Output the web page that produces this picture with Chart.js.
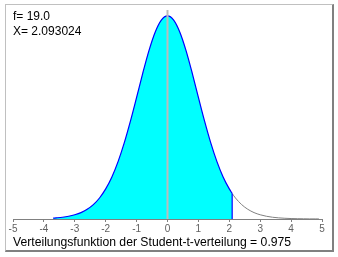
<!DOCTYPE html>
<html>
<head>
<meta charset="utf-8">
<script src="https://cdn.jsdelivr.net/npm/chart.js@4"></script>
<style>
  html, body { margin: 0; padding: 0; background: #fff; }
  #wrap { position: relative; width: 338px; height: 257px; overflow: hidden; }
  #frame { position: absolute; left: 5px; top: 4px; width: 326px; height: 245px;
           border-left: 1px solid #c0c0c0; border-top: 1px solid #c0c0c0;
           border-right: 2px solid #808080; border-bottom: 2px solid #808080; }
  canvas { position: absolute; left: 0; top: 0; }
  .txt { position: absolute; font: 12px "Liberation Sans", Arial, sans-serif; line-height: 12px; color: #000; white-space: nowrap; }
</style>
</head>
<body>
<div id="wrap">
  <div id="frame"></div>
  <canvas id="chart" width="338" height="257"></canvas>
  <div class="txt" style="left:13px; top:10px;">f= 19.0</div>
  <div class="txt" style="left:13px; top:25px;">X= 2.093024</div>
  <div class="txt" style="left:13px; top:236px; font-size:12.2px;">Verteilungsfunktion der Student-t-verteilung = 0.975</div>
</div>
<script>
// t-verteilung, f = 19
const xFill = [-3.7, -3.6, -3.4, -3.2, -3.0, -2.8, -2.6, -2.4, -2.2, -2.0, -1.8, -1.6, -1.4, -1.2, -1.0, -0.8, -0.6, -0.4, -0.2,
               0, 0.2, 0.4, 0.6, 0.8, 1.0, 1.2, 1.4, 1.6, 1.8, 2.0, 2.093];
const yFill = [0.0017, 0.0022, 0.0034, 0.0053, 0.0082, 0.0124, 0.0188, 0.0279, 0.0407, 0.0583, 0.0815, 0.1112, 0.1475, 0.1896, 0.2357, 0.2827, 0.3263, 0.3620, 0.3855,
               0.3937, 0.3855, 0.3620, 0.3263, 0.2827, 0.2357, 0.1896, 0.1475, 0.1112, 0.0815, 0.0583, 0.0494];
const xRest = [2.093, 2.2, 2.4, 2.6, 2.8, 3.0, 3.2, 3.4, 3.6, 3.8, 4.0, 4.2, 4.4, 4.6, 4.8, 4.9];
const yRest = [0.0494, 0.0407, 0.0279, 0.0188, 0.0124, 0.0082, 0.0053, 0.0034, 0.0022, 0.0014, 0.0009, 0.0006, 0.0004, 0.0002, 0.0002, 0.0001];
const xTicks = [-5, -4, -3, -2, -1, 0, 1, 2, 3, 4, 5];
const xWert = 2.093;
const yMax = 0.405;

const pts = (xs, ys) => xs.map((x, i) => ({ x: x, y: ys[i] }));

const ctx = document.getElementById('chart').getContext('2d');
const myChart = new Chart(ctx, {
  type: 'line',
  data: {
    datasets: [{
      data: pts(xFill, yFill),
      borderColor: '#0000ff',
      backgroundColor: '#00ffff',
      borderWidth: 1.2,
      fill: 'origin',
      pointRadius: 0,
      cubicInterpolationMode: 'monotone',
      order: 3
    }, {
      data: pts(xRest, yRest),
      borderColor: '#808080',
      borderWidth: 1,
      fill: false,
      pointRadius: 0,
      cubicInterpolationMode: 'monotone',
      order: 2
    }, {
      data: [{ x: xWert, y: 0 }, { x: xWert, y: yFill[yFill.length - 1] }],
      borderColor: '#0000ff',
      borderWidth: 1.2,
      pointRadius: 0,
      order: 1
    }, {
      data: [{ x: 0, y: 0 }, { x: 0, y: yMax }],
      borderColor: '#bcbcbc',
      borderWidth: 2,
      pointRadius: 0,
      order: 0
    }]
  },
  options: {
    responsive: false,
    animation: false,
    events: [],
    layout: { padding: { left: 13, right: 16, top: 10, bottom: 0 } },
    plugins: { legend: { display: false }, tooltip: { enabled: false } },
    scales: {
      x: {
        type: 'linear',
        min: -5,
        max: 5,
        afterBuildTicks: (axis) => { axis.ticks = xTicks.map(v => ({ value: v })); },
        afterFit: (axis) => { axis.height = 38; },
        border: { color: '#808080', width: 1 },
        grid: { drawOnChartArea: false, drawTicks: true, tickLength: 3, color: '#808080' },
        ticks: { color: '#606060', padding: 1, maxRotation: 0, font: { family: 'Liberation Sans', size: 10 } }
      },
      y: {
        display: false,
        min: 0,
        max: yMax
      }
    }
  }
});
</script>
</body>
</html>
